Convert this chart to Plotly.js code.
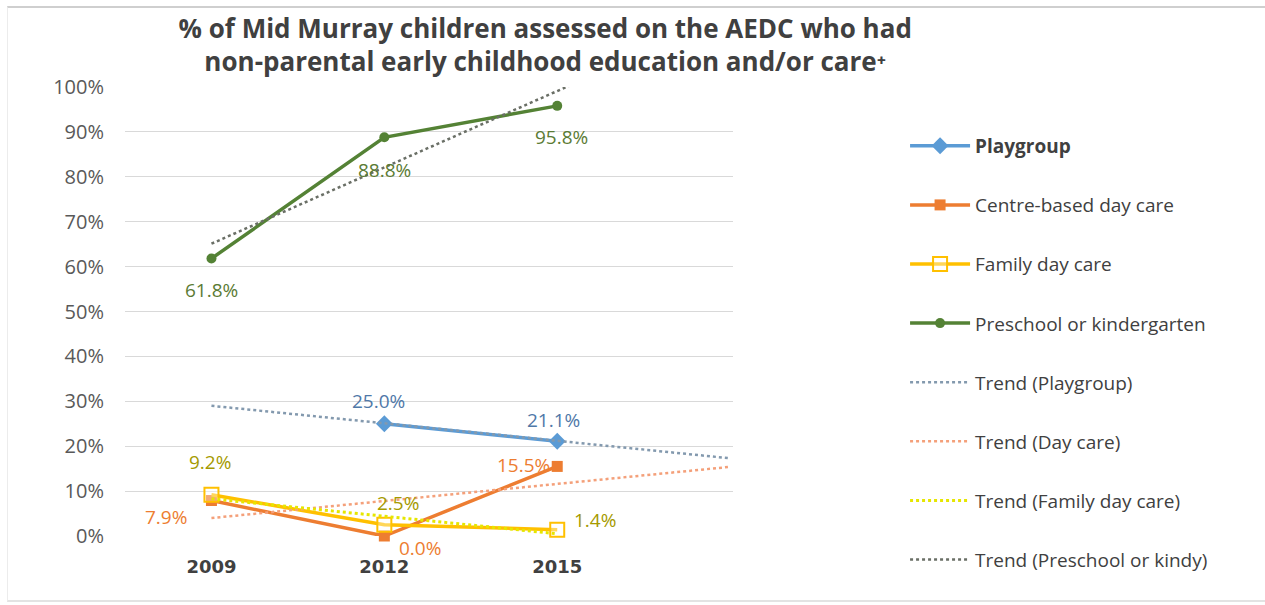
<!DOCTYPE html>
<html>
<head>
<meta charset="utf-8">
<script src="https://cdn.plot.ly/plotly-3.0.1.min.js"></script>
<style>
  html, body { margin: 0; padding: 0; background: #ffffff; }
  #wrap { position: relative; width: 1265px; height: 605px; }
  #chart { width: 1265px; height: 605px; }
  #frame { position: absolute; left: 7px; top: 6px; width: 1262px; height: 592px;
           border-top: 2px solid #cfcfcf; border-left: 1px solid #ececec; border-bottom: 2px solid #e3e3e3;
           pointer-events: none; }
</style>
</head>
<body>
<div id="wrap">
  <div id="chart"></div>
  <div id="frame"></div>
</div>
<script>
// ---- data ----
const years = [2009, 2012, 2015];
const playgroup = [null, 25.0, 21.1];
const centreDayCare = [7.9, 0.0, 15.5];
const familyDayCare = [9.2, 2.5, 1.4];
const preschool = [61.8, 88.8, 95.8];

// trendline end points as they appear in the picture
const trendYearsLong = [2009, 2018];
const trendYearsShort = [2009, 2015];
const trendPlaygroup = [29.0, 17.3];
const trendDayCare = [4.0, 15.4];
const trendFamily = [8.3, 0.5];
const trendPreschool = [65.1, 116.1];

const seriesNames = ['<b>Playgroup</b>', 'Centre-based day care', 'Family day care', 'Preschool or kindergarten'];
const trendNames = ['Trend (Playgroup)', 'Trend (Day care)', 'Trend (Family day care)', 'Trend (Preschool or kindy)'];
const yTicks = [0, 10, 20, 30, 40, 50, 60, 70, 80, 90, 100];
const xTicks = ['2009', '2012', '2015'];

// ---- styling ----
const FONT = 'Open Sans, Noto Sans, DejaVu Sans, sans-serif';
const colors = {
  blue: '#5b9bd5', orange: '#ed7d31', gold: '#ffc000', green: '#548235'
};

const traces = [];
let g = 0;
function add(t) { t.legendgroup = 'g' + (g++); traces.push(t); }

add({ x: years, y: playgroup, name: seriesNames[0], type: 'scatter', mode: 'lines+markers',
  line: { color: colors.blue, width: 3.5 }, marker: { symbol: 'diamond', size: 13, color: colors.blue },
  cliponaxis: false, connectgaps: false });
add({ x: years, y: centreDayCare, name: seriesNames[1], type: 'scatter', mode: 'lines+markers',
  line: { color: colors.orange, width: 3.5 }, marker: { symbol: 'square', size: 11, color: colors.orange },
  cliponaxis: false });
add({ x: years, y: familyDayCare, name: seriesNames[2], type: 'scatter', mode: 'lines+markers',
  line: { color: colors.gold, width: 3.5 },
  marker: { symbol: 'square', size: 14, color: 'rgba(255,255,255,0.35)', line: { color: colors.gold, width: 2 } },
  cliponaxis: false });
add({ x: years, y: preschool, name: seriesNames[3], type: 'scatter', mode: 'lines+markers',
  line: { color: colors.green, width: 3.5 }, marker: { symbol: 'circle', size: 10, color: colors.green },
  cliponaxis: false });

add({ x: trendYearsLong, y: trendPlaygroup, name: trendNames[0], type: 'scatter', mode: 'lines',
  line: { color: '#8399ae', width: 2.5, dash: 'dot' } });
add({ x: trendYearsLong, y: trendDayCare, name: trendNames[1], type: 'scatter', mode: 'lines',
  line: { color: '#f4a07a', width: 2.5, dash: 'dot' } });
add({ x: trendYearsShort, y: trendFamily, name: trendNames[2], type: 'scatter', mode: 'lines',
  line: { color: '#e6e600', width: 3, dash: 'dot' } });
add({ x: trendYearsLong, y: trendPreschool, name: trendNames[3], type: 'scatter', mode: 'lines',
  line: { color: '#6a6f66', width: 2.5, dash: 'dot' } });

// data labels (built from the data arrays)
const labelStyle = [
  { data: playgroup, color: '#4f78a8', dx: [0, -6, -4], dy: [0, 23, 21] },
  { data: centreDayCare, color: '#ed7d31', dx: [-45, 36, -34], dy: [-16, -12, 1] },
  { data: familyDayCare, color: '#a59a00', dx: [-1, 14, 38], dy: [33, 22, 10] },
  { data: preschool, color: '#5b7b34', dx: [0, 0, 4], dy: [-31, -33, -31] }
];
const annotations = [];
labelStyle.forEach(s => {
  s.data.forEach((v, i) => {
    if (v === null) return;
    annotations.push({
      x: years[i], y: v, xref: 'x', yref: 'y', text: v.toFixed(1) + '%', showarrow: false,
      xshift: s.dx[i], yshift: s.dy[i],
      font: { family: FONT, size: 19, color: s.color }
    });
  });
});

const layout = {
  width: 1265, height: 605,
  margin: { l: 125, r: 532, t: 87, b: 69, pad: 0 },
  paper_bgcolor: '#ffffff', plot_bgcolor: '#ffffff',
  title: {
    text: '<b>% of Mid Murray children assessed on the AEDC who had<br>non-parental early childhood education and/or care⁺</b>',
    font: { family: FONT, size: 26, color: '#404040' },
    x: 0.431, xref: 'container', xanchor: 'center',
    y: 0.938, yref: 'container', yanchor: 'middle'
  },
  xaxis: {
    type: 'linear', range: [2007.5, 2018.05],
    tickvals: years, ticktext: xTicks, showgrid: false, zeroline: false, showline: false,
    ticks: '', ticklabelstandoff: 18,
    tickfont: { family: 'DejaVu Sans, sans-serif', size: 18, color: '#404040', weight: 'bold' }
  },
  yaxis: {
    range: [0, 100], tickvals: yTicks, ticktext: yTicks.map(v => v + '%'),
    showgrid: true, gridcolor: '#d9d9d9', gridwidth: 1, zeroline: false, showline: false,
    ticks: '', ticklabelstandoff: 20,
    tickfont: { family: FONT, size: 20, color: '#595959' }
  },
  showlegend: true,
  legend: {
    x: 1.283, y: 0.911, xanchor: 'left', yanchor: 'top',
    traceorder: 'grouped', tracegroupgap: 31.4,
    font: { family: FONT, size: 19, color: '#404040' },
    bgcolor: 'rgba(0,0,0,0)', itemwidth: 60
  },
  annotations: annotations
};

Plotly.newPlot('chart', traces, layout, { displayModeBar: false, staticPlot: true });
</script>
</body>
</html>
